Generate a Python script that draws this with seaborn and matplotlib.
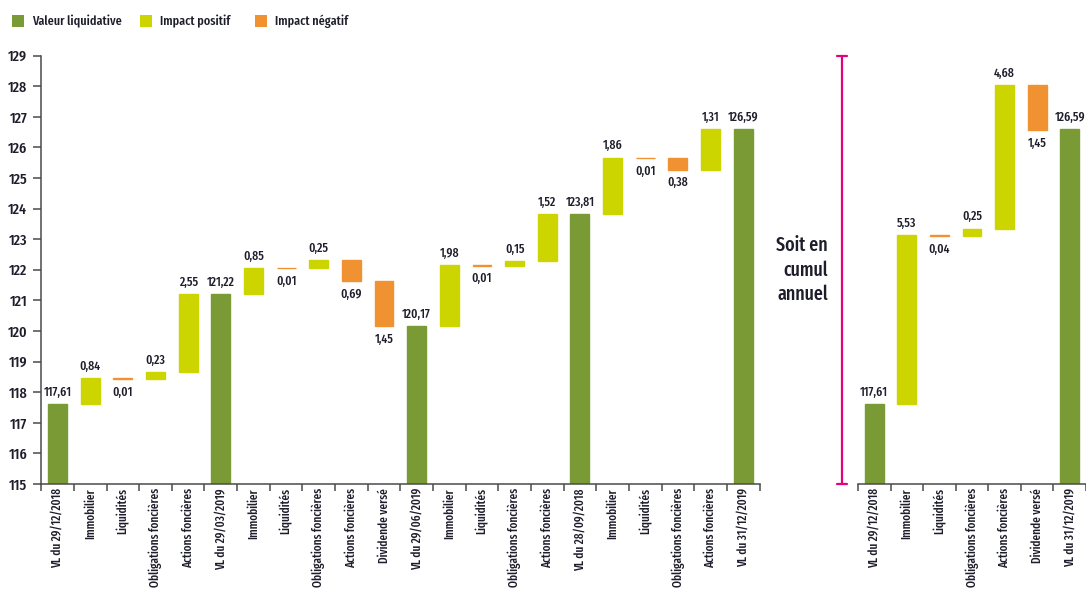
import numpy as np
import pandas as pd
import matplotlib
matplotlib.use("Agg")
import matplotlib.pyplot as plt
import matplotlib.transforms as mtransforms
from matplotlib.patches import Rectangle
import seaborn as sns

# ---- data -------------------------------------------------------------
quarter_labels = [
    "VL du 29/12/2018", "Immobilier", "Liquidités", "Obligations foncières", "Actions foncières",
    "VL du 29/03/2019", "Immobilier", "Liquidités", "Obligations foncières", "Actions foncières",
    "Dividende versé",
    "VL du 29/06/2019", "Immobilier", "Liquidités", "Obligations foncières", "Actions foncières",
    "VL du 28/09/2018", "Immobilier", "Liquidités", "Obligations foncières", "Actions foncières",
    "VL du 31/12/2019",
]
quarter_values = [
    117.61, 0.84, -0.01, 0.23, 2.55,
    121.22, 0.85, -0.01, 0.25, -0.69, -1.45,
    120.17, 1.98, -0.01, 0.15, 1.52,
    123.81, 1.86, -0.01, -0.38, 1.31,
    126.59,
]
quarter_is_total = [
    True, False, False, False, False,
    True, False, False, False, False, False,
    True, False, False, False, False,
    True, False, False, False, False,
    True,
]

annual_labels = [
    "VL du 29/12/2018", "Immobilier", "Liquidités", "Obligations foncières",
    "Actions foncières", "Dividende versé", "VL du 31/12/2019",
]
annual_values = [117.61, 5.53, -0.04, 0.25, 4.68, -1.45, 126.59]
annual_is_total = [True, False, False, False, False, False, True]

y_ticks = list(range(115, 130))
legend_labels = ["Valeur liquidative", "Impact positif", "Impact négatif"]

# ---- style ------------------------------------------------------------
GREEN = "#7a9a36"
LIME = "#ccd500"
ORANGE = "#f09232"
MAGENTA = "#e5007e"
INK = "#1d1d2b"
AXIS = "#4a4a4a"
palette = {"total": GREEN, "pos": LIME, "neg": ORANGE}

sns.set_theme(style="white")
plt.rcParams["font.family"] = ["Fira Sans Extra Condensed", "DejaVu Sans"]
plt.rcParams["font.weight"] = 500
plt.rcParams["text.color"] = INK
plt.rcParams["xtick.color"] = AXIS
plt.rcParams["ytick.color"] = AXIS
plt.rcParams["xtick.labelcolor"] = INK
plt.rcParams["ytick.labelcolor"] = INK

YMIN, YMAX = 115, 129


def build_frame(values, is_total):
    rows = []
    level = None
    for i, (v, tot) in enumerate(zip(values, is_total)):
        if tot:
            level = v
            rows.append(dict(pos=i, top=v, bottom=YMIN, kind="total", value=v))
        else:
            start, end = level, level + v
            level = end
            rows.append(dict(pos=i, top=max(start, end), bottom=min(start, end),
                             kind="pos" if v >= 0 else "neg", value=v))
    return pd.DataFrame(rows)


def fmt(v):
    return f"{abs(v):.2f}".replace(".", ",")


def waterfall(ax, labels, values, is_total):
    df = build_frame(values, is_total)
    n = len(df)
    sns.barplot(data=df, x="pos", y="top", hue="kind", palette=palette,
                hue_order=["total", "pos", "neg"], dodge=False, width=0.58,
                saturation=1, legend=False, ax=ax)
    # turn the bars into floating segments of the bridge
    for p in ax.patches:
        idx = int(round(p.get_x() + p.get_width() / 2))
        row = df.iloc[idx]
        if row["kind"] != "total":
            p.set_y(row["bottom"])
            p.set_height(row["top"] - row["bottom"])
        p.set_edgecolor(p.get_facecolor())
        p.set_linewidth(1.0)

    # value labels
    for _, row in df.iterrows():
        if row["kind"] == "neg":
            ax.annotate(fmt(row["value"]), (row["pos"], row["bottom"]),
                        xytext=(0, -5), textcoords="offset points",
                        ha="center", va="top", fontsize=9.2, color=INK)
        else:
            ax.annotate(fmt(row["value"]), (row["pos"], row["top"]),
                        xytext=(0, 4), textcoords="offset points",
                        ha="center", va="bottom", fontsize=9.2, color=INK)

    ax.set_ylim(YMIN, YMAX)
    ax.set_xlim(-0.5, n - 0.5)
    ax.set_xlabel("")
    ax.set_ylabel("")
    # boundary ticks between categories, labels at the centres
    ax.set_xticks(np.arange(n + 1) - 0.5)
    ax.set_xticklabels([])
    ax.set_xticks(np.arange(n), labels=labels, minor=True)
    ax.tick_params(axis="x", which="major", length=5, width=1.1, direction="out", bottom=True)
    ax.tick_params(axis="x", which="minor", length=0, pad=3, labelsize=8.8, bottom=True)
    for t in ax.get_xticklabels(minor=True):
        t.set_rotation(90)
        t.set_va("top")
        t.set_ha("center")
    for s in ["top", "right"]:
        ax.spines[s].set_visible(False)
    ax.spines["bottom"].set_color(AXIS)
    ax.spines["bottom"].set_linewidth(1.1)
    return df


fig = plt.figure(figsize=(10.86, 5.91), dpi=100)
W, H = 1086, 591
ax1 = fig.add_axes([41.2 / W, (H - 484) / H, (759.5 - 41.2) / W, (484 - 55.7) / H])
ax2 = fig.add_axes([858 / W, (H - 484) / H, (1086 - 858) / W, (484 - 55.7) / H])

waterfall(ax1, quarter_labels, quarter_values, quarter_is_total)
waterfall(ax2, annual_labels, annual_values, annual_is_total)

ax1.set_yticks(y_ticks)
ax1.set_yticklabels([str(t) for t in y_ticks])
ax1.tick_params(axis="y", length=6, width=1.1, direction="out", left=True, pad=4, labelsize=11)
ax1.spines["left"].set_color(AXIS)
ax1.spines["left"].set_linewidth(1.1)

ax2.spines["left"].set_visible(False)
ax2.set_yticks([])

# bracket spanning the annual scale
trans = mtransforms.blended_transform_factory(ax2.transAxes, ax2.transData)
bx = (842 - 858) / (1086 - 858)
cap = 5 / (1086 - 858)
ax2.plot([bx, bx], [YMIN, YMAX], color=MAGENTA, lw=1.6, transform=trans, clip_on=False)
for yy in (YMIN, YMAX):
    ax2.plot([bx - cap, bx + cap], [yy, yy], color=MAGENTA, lw=1.6,
             transform=trans, clip_on=False)
fig.text(828 / W, 1 - 270 / H, "Soit en\ncumul\nannuel", ha="right", va="center",
         multialignment="right", fontsize=14, linespacing=1.3, color=INK)

# legend
legend_colors = [GREEN, LIME, ORANGE]
legend_x = [12, 140, 255]
for lx, col, lab in zip(legend_x, legend_colors, legend_labels):
    fig.add_artist(Rectangle((lx / W, 1 - 27 / H), 12 / W, 12 / H,
                             transform=fig.transFigure, facecolor=col, edgecolor="none"))
    fig.text((lx + 20) / W, 1 - 21 / H, lab, ha="left", va="center", fontsize=9.5, color=INK)

fig.savefig("out.png", dpi=100)
